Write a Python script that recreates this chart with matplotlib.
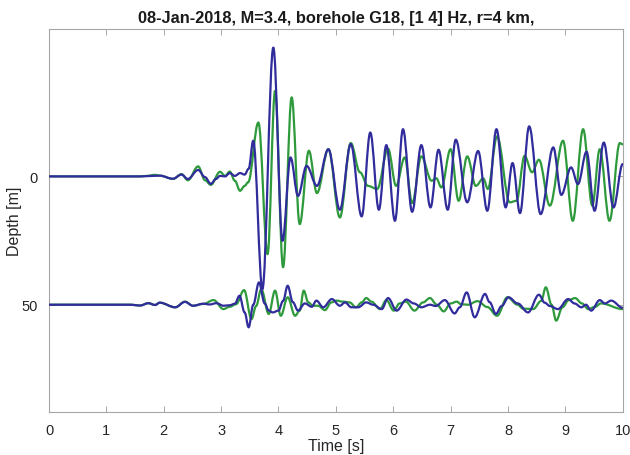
import numpy as np
import matplotlib
matplotlib.use("Agg")
import matplotlib.pyplot as plt
from matplotlib.path import Path
from matplotlib.patches import PathPatch

plt.rcParams['font.family'] = ['Liberation Sans', 'DejaVu Sans']

# sensor depths of the two borehole levels [m]
depths = [0, 50]

# upper level (0 m): time [s] and trace amplitude (positive = up)
t_top_blue = [0.0, 1.59, 1.70, 1.93, 2.16, 2.31, 2.42, 2.60, 2.72, 2.82, 2.91, 2.98,
              3.07, 3.15, 3.24, 3.33, 3.41, 3.48, 3.56, 3.72, 3.91, 4.07, 4.21, 4.34,
              4.49, 4.67, 4.87, 5.07, 5.26, 5.45, 5.60, 5.75, 5.88, 6.03, 6.17, 6.33,
              6.49, 6.65, 6.79, 6.95, 7.09, 7.29, 7.48, 7.64, 7.80, 7.96, 8.08, 8.21,
              8.37, 8.57, 8.79, 8.93, 9.10, 9.22, 9.37, 9.51, 9.67, 9.84, 10.0]
a_top_blue = [0.0, 0.0, 0.1, 0.3, -0.9, 0.7, -1.0, 2.5, -0.3, -2.9, -1.0, 0.2,
              0.0, 1.3, 0.2, 1.3, 0.7, 3.0, 13.9, -43.9, 50.2, -25.1, 7.4, -7.6,
              4.1, -3.7, 10.6, -13.0, 12.6, -15.6, 17.1, -13.0, 12.2, -17.3, 18.4, -13.8,
              12.2, -12.1, 10.4, -13.0, 14.3, -10.1, 9.9, -13.4, 18.4, -12.1, 5.2, -14.3,
              19.5, -14.7, 11.3, -7.2, 3.5, -3.0, 9.6, -13.4, 13.2, -12.1, 4.8]

t_top_green = [0.0, 1.59, 1.70, 1.85, 1.93, 2.16, 2.31, 2.42, 2.60, 2.72, 2.82, 2.98,
               3.07, 3.15, 3.24, 3.33, 3.41, 3.47, 3.65, 3.81, 3.94, 4.08, 4.23, 4.37,
               4.53, 4.67, 4.87, 5.07, 5.26, 5.42, 5.56, 5.72, 5.91, 6.05, 6.20, 6.33,
               6.49, 6.67, 6.75, 6.84, 7.00, 7.14, 7.29, 7.44, 7.57, 7.65, 7.81, 8.03,
               8.15, 8.29, 8.42, 8.54, 8.73, 8.96, 9.13, 9.31, 9.47, 9.60, 9.77, 9.95, 10.0]
a_top_green = [0.0, 0.0, 0.2, 0.6, 0.3, -1.0, 0.9, -1.5, 3.9, -1.5, -3.3, 1.8,
               0.2, 1.9, -1.7, -5.6, -3.7, -2.3, 21.0, -30.3, 33.3, -35.4, 30.8, -18.6,
               10.0, -6.5, 10.6, -16.0, 13.0, 1.6, -3.7, -4.9, 10.8, -3.7, 7.4, -10.4,
               7.8, -1.7, -0.7, -4.3, 10.6, -9.5, 7.8, -3.7, -0.8, -4.9, 15.6, -10.1,
               -9.5, 8.0, 1.6, 6.5, -11.4, 13.9, -17.3, 18.4, -11.4, 10.6, -17.3, 13.0, 12.5]

# lower level (50 m)
t_bot_blue = [0.0, 1.41, 1.59, 1.73, 1.85, 1.93, 2.20, 2.37, 2.51, 2.69, 2.80, 2.92,
              3.04, 3.15, 3.24, 3.32, 3.41, 3.48, 3.56, 3.66, 3.76, 3.83, 3.90, 4.00,
              4.08, 4.16, 4.25, 4.34, 4.46, 4.58, 4.66, 4.78, 4.93, 5.07, 5.16, 5.27,
              5.39, 5.53, 5.65, 5.80, 5.91, 6.06, 6.23, 6.36, 6.49, 6.64, 6.74, 6.90,
              7.07, 7.16, 7.28, 7.42, 7.60, 7.68, 7.79, 7.89, 8.01, 8.17, 8.35, 8.54,
              8.64, 8.73, 8.87, 9.05, 9.16, 9.28, 9.36, 9.45, 9.60, 9.69, 9.80, 10.0]
a_bot_blue = [0.0, 0.0, -0.3, 0.6, -0.1, 0.8, -1.0, 1.1, -0.4, 0.4, 0.1, 0.6,
              -0.4, -0.2, 0.4, 3.5, -3.0, -8.8, 0.0, 8.7, 0.5, -2.3, -3.0, -2.3,
              1.5, 7.4, 1.0, -2.3, 0.5, -0.8, 1.6, -1.0, 2.2, -0.4, 0.9, -1.0,
              -1.0, 0.9, 0.0, -1.7, 2.6, -2.3, 2.0, 0.5, -1.0, 0.0, -0.5, 1.8,
              -3.4, -1.0, 4.8, -4.9, 4.2, 1.0, -3.6, -0.5, 2.9, 0.5, -3.0, 3.9,
              0.8, -0.5, -1.7, 2.2, 0.5, -1.0, 0.0, -2.3, 1.8, 0.5, 1.6, -1.2]

t_bot_green = [0.0, 1.41, 1.59, 1.73, 1.85, 1.93, 2.20, 2.37, 2.51, 2.69, 2.87, 3.04,
               3.15, 3.26, 3.40, 3.53, 3.61, 3.70, 3.83, 3.94, 4.04, 4.16, 4.29, 4.37,
               4.44, 4.52, 4.60, 4.69, 4.81, 4.92, 5.01, 5.12, 5.24, 5.35, 5.45, 5.53,
               5.62, 5.77, 5.88, 6.01, 6.11, 6.22, 6.37, 6.52, 6.64, 6.76, 6.88, 7.00,
               7.11, 7.18, 7.30, 7.47, 7.64, 7.81, 7.99, 8.17, 8.26, 8.44, 8.58, 8.66,
               8.76, 8.84, 8.95, 9.06, 9.17, 9.29, 9.40, 9.52, 9.62, 10.0]
a_bot_green = [0.0, 0.0, -0.3, 0.6, -0.1, 0.8, -1.0, 1.2, -0.4, 0.3, 1.8, -1.7,
               -0.8, 0.2, 5.7, -5.6, -0.5, 6.1, -3.6, 5.5, -4.3, 2.9, -4.3, -2.3,
               5.5, 0.9, -0.4, -0.4, -2.1, 0.9, 1.6, 1.2, 0.9, -1.0, 0.9, 2.6,
               1.2, -1.7, 1.8, -2.3, 0.5, 1.2, -2.3, 0.9, 2.6, 0.0, -2.6, 0.5,
               1.2, 0.2, 0.0, 1.4, -0.9, -4.3, 2.9, 0.0, -1.5, -1.7, 1.5, 6.8,
               0.0, -6.2, -1.0, 1.8, 2.6, 0.5, -1.7, -0.8, 0.5, -1.7]

blue = '#312c9c'
green = '#2e9a3c'


def wiggle(ax, t, y, color, zorder):
    """Trace through the picked extrema, drawn as cubic Bezier segments
    with flat tangents at every pick so the wiggles come out rounded."""
    verts = [(t[0], y[0])]
    codes = [Path.MOVETO]
    for i in range(1, len(t)):
        h = 0.36 * (t[i] - t[i - 1])
        verts += [(t[i - 1] + h, y[i - 1]), (t[i] - h, y[i]), (t[i], y[i])]
        codes += [Path.CURVE4] * 3
    ax.add_patch(PathPatch(Path(verts, codes), facecolor='none', edgecolor=color,
                           lw=1.6, capstyle='round', joinstyle='round', zorder=zorder))


fig = plt.figure(figsize=(6.30, 4.56), dpi=100)
ax = fig.add_axes([0.0778, 0.0943, 0.9106, 0.8397])

traces = [
    (depths[0], t_top_blue, a_top_blue, t_top_green, a_top_green),
    (depths[1], t_bot_blue, a_bot_blue, t_bot_green, a_bot_green),
]
for z, tb, ab, tg, ag in traces:
    wiggle(ax, tb, z - np.array(ab), blue, 3)
    wiggle(ax, tg, z - np.array(ag), green, 2)

ax.set_xlim(0, 10)
ax.set_ylim(91.8, -57.4)
ax.set_xticks(np.arange(0, 11, 1))
ax.set_yticks(depths)

for s in ax.spines.values():
    s.set_color('#a6a6a6')
    s.set_linewidth(0.8)
ax.tick_params(direction='in', length=4, width=0.7, color='#a6a6a6',
               labelcolor='#262626', labelsize=10.5, top=True, right=True)
ax.tick_params(axis='x', pad=8)
ax.tick_params(axis='y', pad=8)

ax.set_xlabel('Time [s]', fontsize=11.5, color='#262626', labelpad=1)
ax.set_ylabel('Depth [m]', fontsize=11.5, color='#262626', labelpad=0)
ax.set_title('08-Jan-2018, M=3.4, borehole G18, [1 4] Hz, r=4 km,',
             fontsize=11.8, fontweight='bold', color='#1a1a1a', pad=5)

fig.savefig('out.png', dpi=100)
